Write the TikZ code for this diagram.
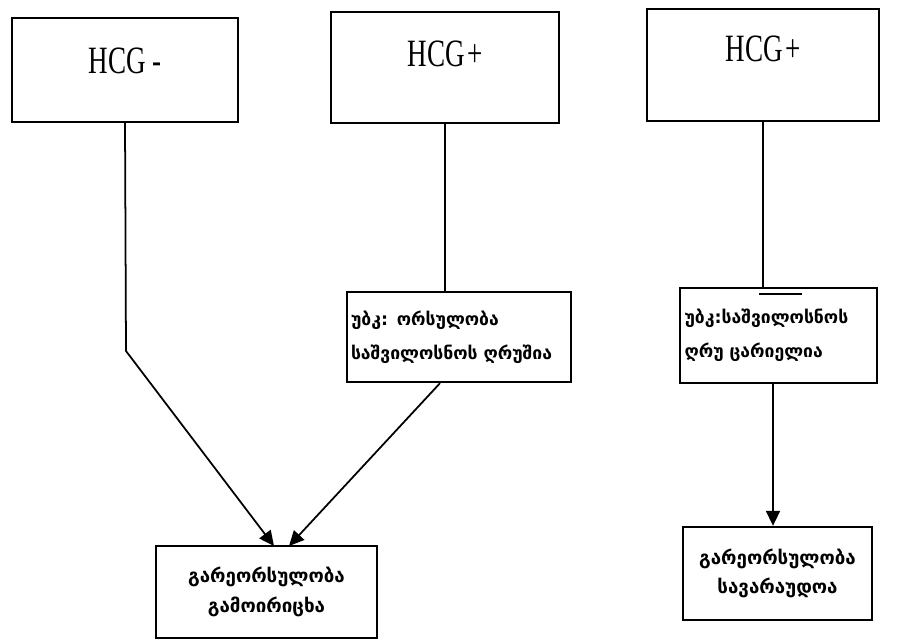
\documentclass[tikz,border=0pt]{standalone}
\usepackage{fontspec}
\setmainfont{Liberation Serif}
\newfontfamily\hcgfont[FakeStretch=0.7]{Liberation Serif}
\newfontfamily\geofont{DejaVu Sans}
\usetikzlibrary{arrows.meta}
\begin{document}
\begin{tikzpicture}[x=0.03cm, y=-0.03cm, >={Triangle[length=0.45cm,width=0.42cm]},
  hcgbox/.style={draw, line width=0.9pt, inner sep=0pt, font=\hcgfont\fontsize{33}{36}\selectfont},
  usbox/.style={draw, line width=2pt, align=left, inner sep=0pt, font=\geofont\bfseries\fontsize{15}{29}\selectfont},
  resbox/.style={draw, line width=2pt, align=center, inner sep=0pt, font=\geofont\bfseries\fontsize{16}{25}\selectfont},
  link/.style={line width=1.5pt}]
\useasboundingbox (0,0) rectangle (899,642);
\node[hcgbox, minimum width=6.78cm, text height=1.65cm, text depth=1.47cm] (neg) at (125,70) {HCG -};
\node[hcgbox, minimum width=6.84cm, text height=1.62cm, text depth=1.71cm] (pos1) at (445,67.5) {HCG\hspace{2pt}+};
\node[hcgbox, minimum width=6.96cm, text height=1.56cm, text depth=1.8cm] (pos2) at (763,65) {HCG\hspace{2pt}+};
\node[usbox, minimum width=6.72cm, minimum height=2.7cm, text width=6.48cm] (us1) at (459,337) {უბკ: ორსულობა\\საშვილოსნოს ღრუშია};
\node[usbox, minimum width=5.91cm, minimum height=2.85cm, text width=5.64cm] (us2) at (778.5,335.5) {უბკ:საშვილოსნოს\\ღრუ ცარიელია};
\node[resbox, minimum width=6.63cm, minimum height=2.76cm] (res1) at (266.5,592) {გარეორსულობა\\გამოირიცხა};
\node[resbox, minimum width=5.67cm, minimum height=2.79cm] (res2) at (777.5,573.5) {გარეორსულობა\\სავარაუდოა};
% connectors
\coordinate (bend) at (126,351);
\coordinate (tipl) at (274,546);
\coordinate (tipr) at (289,546);
\draw[link, ->] (neg.south) -- (bend) -- (tipl);
\draw[link] (pos1.south) -- (pos1.south |- us1.north);
\draw[link, ->] ([xshift=-0.57cm]us1.south) -- (tipr);
\draw[link] (pos2.south) -- (pos2.south |- us2.north);
\draw[link, ->] ([xshift=-0.165cm]us2.south) -- ([xshift=-0.165cm]us2.south |- res2.north);
\draw[line width=1pt] (759,294) -- (802,294);
\end{tikzpicture}
\end{document}
